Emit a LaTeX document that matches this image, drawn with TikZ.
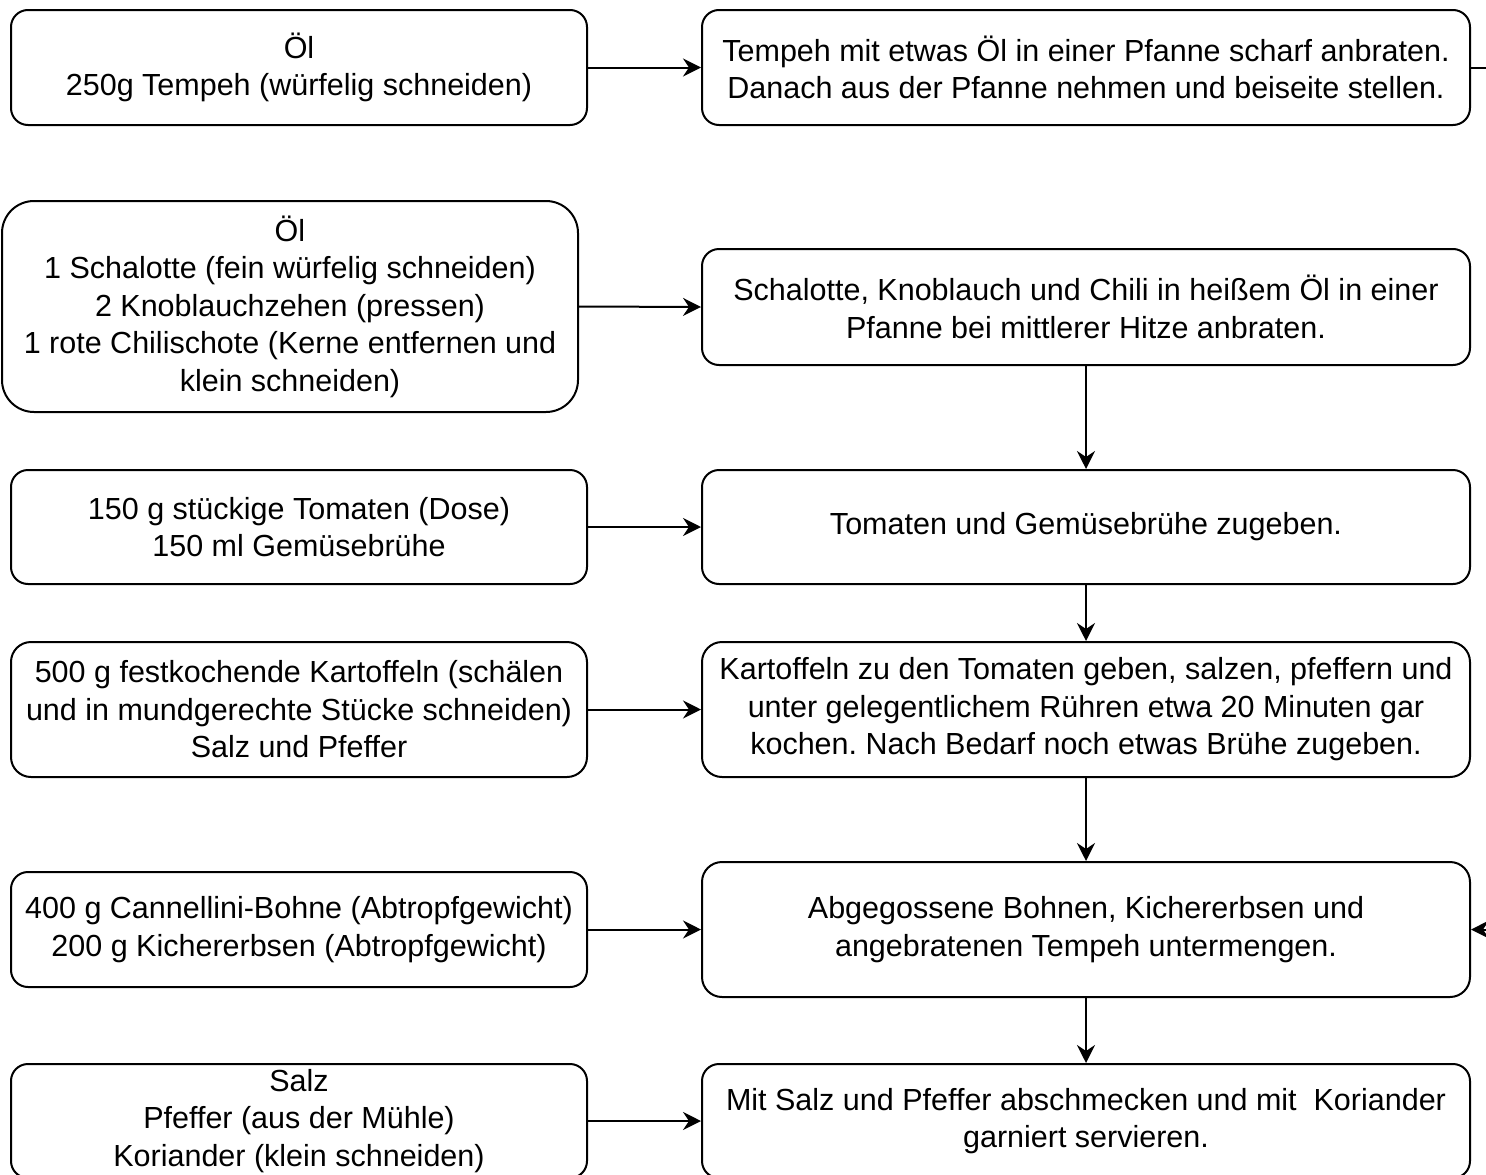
\documentclass[tikz,border=0pt]{standalone}
\usepackage{fontspec}
\setmainfont{Liberation Sans}
\usetikzlibrary{arrows.meta}
\frenchspacing
\begin{document}
\begin{tikzpicture}[x=1pt,y=-1pt,
  box/.style={draw, line width=2pt, align=center, inner sep=0pt,
    font=\frenchspacing\fontsize{30.5}{37.5}\selectfont},
  lbox/.style={box, minimum width=576pt},
  rbox/.style={box, minimum width=768pt},
  flow/.style={line width=2pt, -{Stealth[length=18pt,width=18pt,inset=6pt]}}]
\useasboundingbox (0,0) rectangle (1486,1175);
\clip (0,0) rectangle (1486,1175);
% left column
\node[lbox, minimum height=115pt, rounded corners=17pt] (L1) at (299,67.5) {Öl\\250g Tempeh (würfelig schneiden)};
\node[lbox, minimum height=211pt, rounded corners=32pt] (L2) at (290,306.5) {Öl\\1 Schalotte (fein würfelig schneiden)\\2 Knoblauchzehen (pressen)\\1 rote Chilischote (Kerne entfernen und\\klein schneiden)};
\node[lbox, minimum height=114pt, rounded corners=17pt] (L3) at (299,527) {150 g stückige Tomaten (Dose)\\150 ml Gemüsebrühe};
\node[lbox, minimum height=135pt, rounded corners=20pt] (L4) at (299,709.5) {500 g festkochende Kartoffeln (schälen\\und in mundgerechte Stücke schneiden)\\Salz und Pfeffer};
\node[lbox, minimum height=115pt, rounded corners=17pt] (L5) at (299,929.5) {400 g Cannellini-Bohne (Abtropfgewicht)\\200 g Kichererbsen (Abtropfgewicht)};
\node[lbox, minimum height=114pt, rounded corners=17pt] (L6) at (299,1121) {Salz\\Pfeffer (aus der Mühle)\\Koriander (klein schneiden)};
% right column
\node[rbox, minimum height=115pt, rounded corners=17pt] (R1) at (1086,67.5) {Tempeh mit etwas Öl in einer Pfanne scharf anbraten.\\Danach aus der Pfanne nehmen und beiseite stellen.};
\node[rbox, minimum height=116pt, rounded corners=17pt] (R2) at (1086,307) {Schalotte, Knoblauch und Chili in heißem Öl in einer\\Pfanne bei mittlerer Hitze anbraten.};
\node[rbox, minimum height=114pt, rounded corners=17pt] (R3) at (1086,527) {Tomaten und Gemüsebrühe zugeben.};
\node[rbox, minimum height=135pt, rounded corners=20pt] (R4) at (1086,709.5) {Kartoffeln zu den Tomaten geben, salzen, pfeffern und\\unter gelegentlichem Rühren etwa 20 Minuten gar\\kochen. Nach Bedarf noch etwas Brühe zugeben.};
\node[rbox, minimum height=135pt, rounded corners=20pt] (R5) at (1086,929.5) {Abgegossene Bohnen, Kichererbsen und\\angebratenen Tempeh untermengen.};
\node[rbox, minimum height=114pt, rounded corners=17pt] (R6) at (1086,1121) {Mit Salz und Pfeffer abschmecken und mit\ \ Koriander\\garniert servieren.};
% off-picture ends
\coordinate (outR1) at (1540,67.5);
\coordinate (inR5) at (1540,929.5);
% connectors
\draw[flow] (L1) -- (R1);
\draw[flow] (L2.east) -- (R2.west);
\draw[flow] (L3) -- (R3);
\draw[flow] (L4) -- (R4);
\draw[flow] (L5) -- (R5);
\draw[flow] (L6) -- (R6);
\draw[flow] (R2) -- (R3);
\draw[flow] (R3) -- (R4);
\draw[flow] (R4) -- (R5);
\draw[flow] (R5) -- (R6);
\draw[line width=2pt] (R1.east) -- (outR1);
\draw[flow] (inR5) -- (R5.east);
\end{tikzpicture}
\end{document}
